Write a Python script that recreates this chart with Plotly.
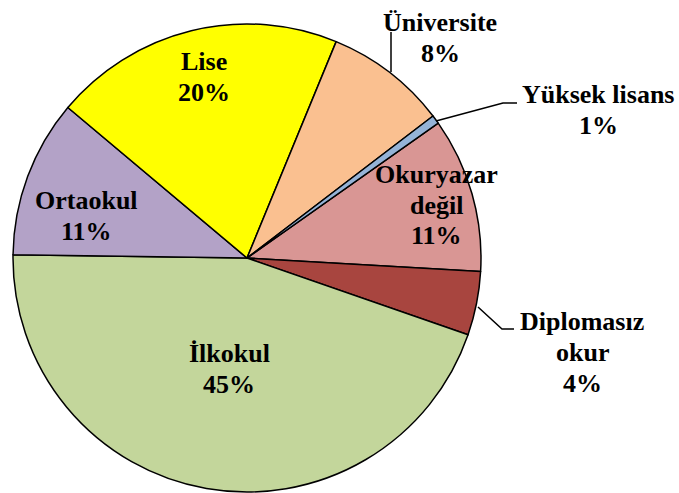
import plotly.graph_objects as go

W, H = 679, 493

# data, clockwise starting from "Okuryazar değil"
egitim = ["Okuryazar değil", "Diplomasız okur", "İlkokul", "Ortaokul", "Lise", "Üniversite", "Yüksek lisans"]
oran = [10.7, 4.4, 44.9, 10.9, 20.1, 8.4, 0.6]
renkler = ["#D99694", "#A8453F", "#C3D69B", "#B3A2C7", "#FFFF00", "#FAC090", "#95B3D7"]

# label lines per slice
etiket = [["Okuryazar", "değil"], ["Diplomasız", "okur"], ["İlkokul"], ["Ortaokul"],
          ["Lise"], ["Üniversite"], ["Yüksek lisans"]]
# label block centers in pixels
etiket_xy = [(436, 205), (582, 352), (229, 369), (87, 216), (204, 77), (440, 38), (598, 110)]
satir = 31  # line spacing, px


def px(x):
    return x / W


def py(y):
    return 1 - y / H


fig = go.Figure(go.Pie(
    labels=egitim,
    values=oran,
    sort=False,
    direction="clockwise",
    rotation=54.8,
    marker=dict(colors=renkler, line=dict(color="black", width=1.5)),
    textinfo="none",
    hoverinfo="label+percent",
    domain=dict(x=[px(13), px(481)], y=[py(492), py(24)]),
    showlegend=False,
))

font = dict(family="Liberation Serif, Times New Roman, serif", size=26, color="black")
for satirlar, v, (x, y) in zip(etiket, oran, etiket_xy):
    lines = satirlar + ["%d%%" % round(v)]
    y0 = y - satir * (len(lines) - 1) / 2
    for i, t in enumerate(lines):
        fig.add_annotation(x=px(x), y=py(y0 + i * satir), xref="paper", yref="paper",
                           xanchor="center", yanchor="middle",
                           text="<b>%s</b>" % t, showarrow=False, font=font)

# leader lines
cizgiler = [
    [(391, 32), (391, 72)],
    [(436, 121), (503, 103), (517, 103)],
    [(478, 307), (502, 329), (514, 329)],
]
for c in cizgiler:
    path = "M " + " L ".join("%f,%f" % (px(a), py(b)) for a, b in c)
    fig.add_shape(type="path", path=path, xref="paper", yref="paper",
                  line=dict(color="black", width=1.5))

fig.update_layout(width=W, height=H, margin=dict(l=0, r=0, t=0, b=0),
                  paper_bgcolor="white", plot_bgcolor="white")

fig.write_html("out.html", config={"displayModeBar": False},
               post_script="document.body.style.margin='0';")
